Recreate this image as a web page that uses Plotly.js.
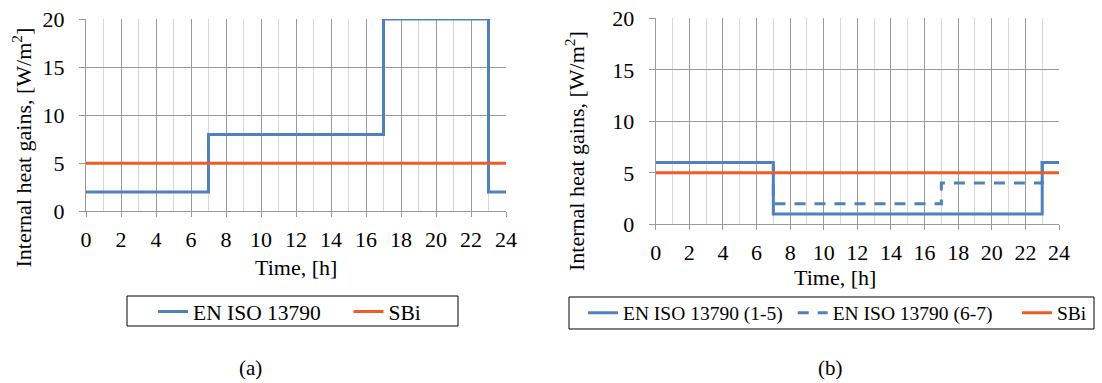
<!DOCTYPE html>
<html>
<head>
<meta charset="utf-8">
<script src="https://cdn.plot.ly/plotly-3.0.1.min.js"></script>
<style>
  html, body { margin: 0; padding: 0; background: #ffffff; }
  #chart { width: 1102px; height: 383px; }
</style>
</head>
<body>
<div id="chart"></div>
<script>
// Hour of day, 0..24
const hours = [0, 1, 2, 3, 4, 5, 6, 7, 8, 9, 10, 11, 12, 13, 14, 15, 16, 17, 18, 19, 20, 21, 22, 23, 24];

// (a) internal heat gains profiles, W/m2 (value holds until the next hour)
const enIso13790 = [2, 2, 2, 2, 2, 2, 2, 8, 8, 8, 8, 8, 8, 8, 8, 8, 8, 20, 20, 20, 20, 20, 20, 2, 2];
const sbiA = [5, 5, 5, 5, 5, 5, 5, 5, 5, 5, 5, 5, 5, 5, 5, 5, 5, 5, 5, 5, 5, 5, 5, 5, 5];

// (b) weekday (1-5) and weekend (6-7) profiles, W/m2
const enIsoWeekday = [6, 6, 6, 6, 6, 6, 6, 1, 1, 1, 1, 1, 1, 1, 1, 1, 1, 1, 1, 1, 1, 1, 1, 6, 6];
const enIsoWeekend = [6, 6, 6, 6, 6, 6, 6, 2, 2, 2, 2, 2, 2, 2, 2, 2, 2, 4, 4, 4, 4, 4, 4, 6, 6];
const sbiB = [5, 5, 5, 5, 5, 5, 5, 5, 5, 5, 5, 5, 5, 5, 5, 5, 5, 5, 5, 5, 5, 5, 5, 5, 5];

// Labels
const namesA = ['EN ISO 13790', 'SBi'];
const namesB = ['EN ISO 13790 (1-5)', 'EN ISO 13790 (6-7)', 'SBi'];
const yTitle = 'Internal heat gains, [W/m<sup>2</sup>]';
const xTitle = 'Time, [h]';
const panelLabels = ['(a)', '(b)'];

const W = 1102, H = 383;
const px = v => v / W;          // horizontal pixel -> paper
const py = v => 1 - v / H;      // vertical pixel (from top) -> paper

const BLUE = '#4F81BD';
const ORANGE = '#F45A24';
const FONT = '"Liberation Serif", "Times New Roman", serif';

function stepTrace(y, name, xa, ya, color, dash, legend) {
  return {
    x: hours, y: y, name: name, type: 'scatter', mode: 'lines',
    xaxis: xa, yaxis: ya, legend: legend, cliponaxis: false,
    line: { shape: 'hv', color: color, width: 3, dash: dash },
    hoverinfo: 'skip'
  };
}

const traces = [
  stepTrace(enIso13790, namesA[0], 'x', 'y', BLUE, 'solid', 'legend'),
  stepTrace(sbiA, namesA[1], 'x', 'y', ORANGE, 'solid', 'legend2'),
  stepTrace(enIsoWeekend, namesB[1], 'x2', 'y2', BLUE, '11px,9px', 'legend4'),
  stepTrace(enIsoWeekday, namesB[0], 'x2', 'y2', BLUE, 'solid', 'legend3'),
  stepTrace(sbiB, namesB[2], 'x2', 'y2', ORANGE, 'solid', 'legend5')
];

function xAxis(domain, anchor) {
  return {
    domain: domain, anchor: anchor, range: [0, 24], dtick: 2, tick0: 0,
    showgrid: true, gridcolor: '#9a9a9a', gridwidth: 1,
    minor: { dtick: 1, showgrid: true, gridcolor: '#d9d9d9', gridwidth: 1 },
    showline: true, linecolor: '#9a9a9a', linewidth: 1,
    ticks: 'outside', ticklen: 5, tickcolor: '#9a9a9a', tickwidth: 1,
    ticklabelstandoff: 3,
    zeroline: false, fixedrange: true,
    tickfont: { family: FONT, size: 22, color: '#000' }
  };
}
function yAxis(domain, anchor) {
  return {
    domain: domain, anchor: anchor, range: [0, 20], dtick: 5, tick0: 0,
    showgrid: true, gridcolor: '#9a9a9a', gridwidth: 1,
    showline: true, linecolor: '#9a9a9a', linewidth: 1,
    ticks: 'outside', ticklen: 6, tickcolor: '#9a9a9a', tickwidth: 1,
    ticklabelstandoff: 10,
    zeroline: false, fixedrange: true,
    tickfont: { family: FONT, size: 22, color: '#000' }
  };
}
function legendAt(xPix, yPix, size) {
  return {
    x: px(xPix), xanchor: 'left', y: py(yPix), yanchor: 'middle',
    orientation: 'h', bgcolor: 'rgba(0,0,0,0)', borderwidth: 0,
    font: { family: FONT, size: size, color: '#000' },
    itemclick: false, itemdoubleclick: false
  };
}

const textFont = { family: FONT, size: 22, color: '#000' };

const layout = {
  width: W, height: H,
  margin: { l: 0, r: 0, t: 0, b: 0 },
  paper_bgcolor: '#ffffff', plot_bgcolor: '#ffffff',
  font: { family: FONT, color: '#000' },
  showlegend: true,
  xaxis: xAxis([px(86), px(506)], 'y'),
  yaxis: yAxis([py(211.3), py(19)], 'x'),
  xaxis2: xAxis([px(655.7), px(1059)], 'y2'),
  yaxis2: yAxis([py(224.3), py(18.3)], 'x2'),
  legend: legendAt(153, 311.5, 21.5),
  legend2: legendAt(348.5, 311.5, 21.5),
  legend3: legendAt(583, 313, 19.5),
  legend4: legendAt(792.7, 313, 19.5),
  legend5: legendAt(1017, 313, 19.5),
  shapes: [
    { type: 'rect', xref: 'paper', yref: 'paper', x0: px(127), x1: px(458), y0: py(326), y1: py(296),
      line: { color: '#000', width: 1 }, fillcolor: 'rgba(0,0,0,0)' },
    { type: 'rect', xref: 'paper', yref: 'paper', x0: px(569), x1: px(1094), y0: py(329), y1: py(297),
      line: { color: '#000', width: 1 }, fillcolor: 'rgba(0,0,0,0)' }
  ],
  annotations: [
    { text: yTitle, xref: 'paper', yref: 'paper', x: px(21.5), y: py(148), textangle: -90,
      showarrow: false, xanchor: 'center', yanchor: 'middle', font: textFont },
    { text: xTitle, xref: 'paper', yref: 'paper', x: px(296), y: py(267),
      showarrow: false, xanchor: 'center', yanchor: 'middle', font: textFont },
    { text: yTitle, xref: 'paper', yref: 'paper', x: px(575), y: py(151), textangle: -90,
      showarrow: false, xanchor: 'center', yanchor: 'middle', font: textFont },
    { text: xTitle, xref: 'paper', yref: 'paper', x: px(835), y: py(277.5),
      showarrow: false, xanchor: 'center', yanchor: 'middle', font: textFont },
    { text: panelLabels[0], xref: 'paper', yref: 'paper', x: px(250), y: py(368),
      showarrow: false, xanchor: 'center', yanchor: 'middle', font: { family: FONT, size: 21, color: '#000' } },
    { text: panelLabels[1], xref: 'paper', yref: 'paper', x: px(830), y: py(368),
      showarrow: false, xanchor: 'center', yanchor: 'middle', font: { family: FONT, size: 21, color: '#000' } }
  ]
};

Plotly.newPlot('chart', traces, layout, { staticPlot: true, displayModeBar: false });
</script>
</body>
</html>
